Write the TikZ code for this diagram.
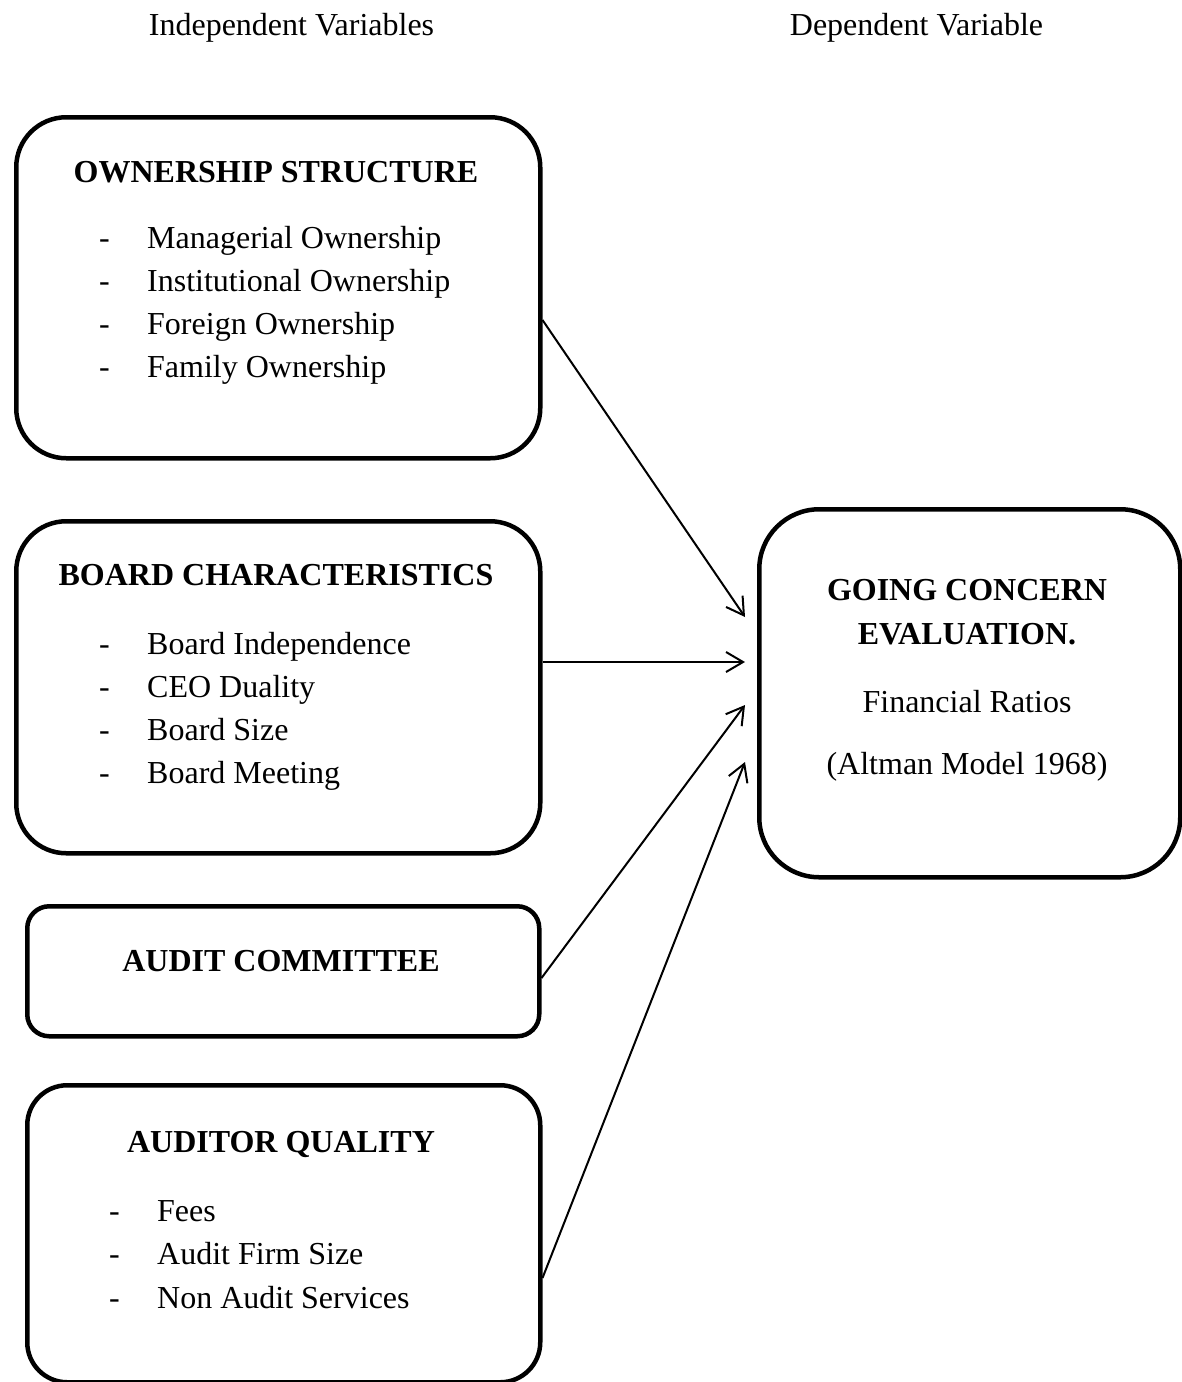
\documentclass[tikz,border=0pt]{standalone}
\usepackage{fontspec}
\setmainfont{Liberation Serif}
\usetikzlibrary{arrows.meta}
\begin{document}
\begin{tikzpicture}[x=1pt,y=-1pt,
  font=\fontsize{32}{43}\selectfont,
  box/.style={draw, line width=4.5pt, rounded corners=#1, inner sep=0pt,
              anchor=north west},
  head/.style={anchor=base, inner sep=0pt, font=\fontsize{32}{43}\selectfont\bfseries},
  label/.style={anchor=base, inner sep=0pt},
  item/.style={anchor=base west, inner sep=0pt},
  conn/.style={line width=2pt, -{Straight Barb[length=17pt,width=20pt,line width=2pt]}}]
\useasboundingbox[fill=white] (0,0) rectangle (1182,1382);

% column titles
\node[label] (indep) at (291.5,35) {Independent Variables};
\node[label] (dep)   at (916.5,35) {Dependent Variable};

% boxes
\node[box=50pt, minimum width=524pt, minimum height=341pt] (own)     at (14,115) {};
\node[box=50pt, minimum width=524pt, minimum height=332pt] (board)   at (14,519) {};
\node[box=22pt, minimum width=512pt, minimum height=130pt] (audit)   at (25,904) {};
\node[box=40pt, minimum width=513pt, minimum height=297pt] (auditor) at (25,1083) {};
\node[box=60pt, minimum width=421pt, minimum height=368pt] (gc)      at (757,507) {};

% ownership structure
\node[head] (ownT) at (276,182) {OWNERSHIP STRUCTURE};
\foreach \t [count=\i] in {Managerial Ownership, Institutional Ownership,
                           Foreign Ownership, Family Ownership} {
  \node[item] (own-d\i) at (99,{248+43*(\i-1)}) {-};
  \node[item] (own-i\i) at (147,{248+43*(\i-1)}) {\t};
}

% board characteristics
\node[head] (boardT) at (276,585) {BOARD CHARACTERISTICS};
\foreach \t [count=\i] in {Board Independence, CEO Duality,
                           Board Size, Board Meeting} {
  \node[item] (board-d\i) at (99,{654+43*(\i-1)}) {-};
  \node[item] (board-i\i) at (147,{654+43*(\i-1)}) {\t};
}

% audit committee
\node[head] (auditT) at (281,971) {AUDIT COMMITTEE};

% auditor quality
\node[head] (auditorT) at (281,1152) {AUDITOR QUALITY};
\foreach \t [count=\i] in {Fees, Audit Firm Size, Non Audit Services} {
  \node[item] (auditor-d\i) at (109,{1221+43.5*(\i-1)}) {-};
  \node[item] (auditor-i\i) at (157,{1221+43.5*(\i-1)}) {\t};
}

% dependent variable
\node[head] (gcT1) at (967,600) {GOING CONCERN};
\node[head] (gcT2) at (967,644) {EVALUATION.};
\node[label] (gcL1) at (967,712) {Financial Ratios};
\node[label] (gcL2) at (967,774) {(Altman Model 1968)};

% connectors
\draw[conn] (own.east |- 0,320)      -- ([xshift=-12pt]gc.west |- 0,617);
\draw[conn] (board.east |- 0,662)    -- ([xshift=-12pt]gc.west |- 0,662);
\draw[conn] (audit.east |- 0,978)    -- ([xshift=-12pt]gc.west |- 0,705);
\draw[conn] (auditor.east |- 0,1278) -- ([xshift=-12pt]gc.west |- 0,762);
\end{tikzpicture}
\end{document}
